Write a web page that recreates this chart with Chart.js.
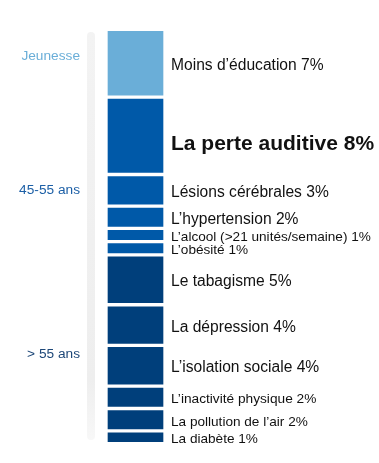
<!DOCTYPE html>
<html>
<head>
<meta charset="utf-8">
<script src="https://cdn.jsdelivr.net/npm/chart.js@4/dist/chart.umd.min.js"></script>
<style>
  html, body { margin: 0; padding: 0; background: #fff; }
  #wrap { width: 379px; height: 463px; position: relative; }
</style>
</head>
<body>
<div id="wrap"><canvas id="myChart"></canvas></div>
<script>
// risk factors, top to bottom
var factors = [
	"Moins d\u2019éducation", "La perte auditive", "Lésions cérébrales", "L\u2019hypertension",
	"L\u2019alcool (>21 unités/semaine)", "L\u2019obésité", "Le tabagisme", "La dépression",
	"L\u2019isolation sociale", "L\u2019inactivité physique", "La pollution de l\u2019air", "La diabète"
];
var shares = [7, 8, 3, 2, 1, 1, 5, 4, 4, 2, 2, 1];
// which age group each factor belongs to (index into ageGroups)
var groupOf = [0, 1, 1, 1, 1, 1, 2, 2, 2, 2, 2, 2];
var ageGroups = ["Jeunesse", "45-55 ans", "> 55 ans"];
var ageTickValues = [2.8, 17.4, 35.3];

var groupColors = ["#6aaed8", "#0059a8", "#003f7b"];
var tickColors = ["#6aaed8", "#1c5fa6", "#1d4778"];
var labelSizes = [15.6, 21, 15.6, 15.6, 13.6, 13.6, 15.6, 15.6, 15.6, 13.7, 13.6, 13.6];
var GAP = 0.44;
var FONT = "'Liberation Sans', Arial, sans-serif";

var ctx = document.getElementById("myChart");

function buildDatasets(){
	var start = 0;
	return shares.map(function(v, i){
		var lo = start, hi = start + v;
		start = hi + GAP;
		return {
			label: factors[i],
			data: [[lo, hi]],
			backgroundColor: groupColors[groupOf[i]],
			borderWidth: 0,
			grouped: false,
			barThickness: 55
		};
	});
}

var total = shares.reduce(function(a, b){ return a + b; }, 0) + GAP * (shares.length - 1);

var sideBar = {
	id: "sideBar",
	beforeDatasetsDraw: function(chart){
		var c = chart.ctx, a = chart.chartArea;
		var g = c.createLinearGradient(0, a.top, 0, a.bottom);
		g.addColorStop(0, "#f3f3f3");
		g.addColorStop(0.85, "#eeeeee");
		g.addColorStop(1, "#f8f8f8");
		c.save();
		c.fillStyle = g;
		c.beginPath();
		c.roundRect(87, a.top + 1, 8, a.bottom - a.top - 3, 4);
		c.fill();
		c.restore();
	}
};

var rightLabels = {
	id: "rightLabels",
	afterDatasetsDraw: function(chart){
		var c = chart.ctx;
		c.save();
		c.textBaseline = "alphabetic";
		c.textAlign = "left";
		c.fillStyle = "#111";
		chart.data.datasets.forEach(function(ds, i){
			var bar = chart.getDatasetMeta(i).data[0];
			var mid = (bar.y + bar.base) / 2;
			var bold = shares[i] === 8;
			var size = labelSizes[i];
			c.font = (bold ? "bold " : "") + size + "px " + FONT;
			c.fillText(factors[i] + " " + shares[i] + "%", bar.x + bar.width / 2 + 8,
				mid + size * 0.358 + (bold ? 6.5 : 1));
		});
		c.restore();
	}
};

var myChart = new Chart(ctx, {
	type: "bar",
	data: {
		labels: [""],
		datasets: buildDatasets()
	},
	options: {
		responsive: true,
		maintainAspectRatio: false,
		animation: false,
		layout: { padding: { top: 31, bottom: 21, left: 0, right: 208 } },
		plugins: { legend: { display: false }, tooltip: { enabled: false } },
		scales: {
			x: { display: false },
			y: {
				min: 0,
				max: total,
				reverse: true,
				grid: { display: false, drawTicks: false },
				border: { display: false },
				afterFit: function(scale){
					scale.width = 100;
					scale.paddingTop = 0;
					scale.paddingBottom = 0;
				},
				afterBuildTicks: function(scale){
					scale.ticks = ageTickValues.map(function(v){ return { value: v }; });
				},
				ticks: {
					padding: 20,
					autoSkip: false,
					font: { family: FONT, size: 13.7 },
					color: function(c){ return tickColors[c.index]; },
					callback: function(v, i){ return ageGroups[i]; }
				}
			}
		}
	},
	plugins: [sideBar, rightLabels]
});
</script>
</body>
</html>
